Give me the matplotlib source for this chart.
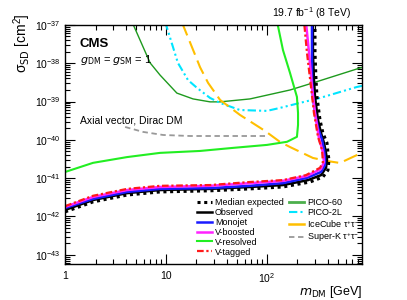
import numpy as np
import matplotlib
matplotlib.use("Agg")
import matplotlib.pyplot as plt
from matplotlib.ticker import FixedLocator, LogLocator, NullFormatter
from matplotlib.lines import Line2D

plt.rcParams['font.family'] = ['Liberation Sans', 'DejaVu Sans']
plt.rcParams['mathtext.default'] = 'regular'

# ---- data: m_DM [GeV], sigma_SD [cm^2] ----
exp_m = [1, 1.89, 4.11, 8.72, 27.3, 67.9, 144, 267, 358, 402, 411, 402, 393, 358, 335, 313, 306, 299, 299]
exp_s = [1.32e-42, 2.40e-42, 3.63e-42, 4.37e-42, 4.68e-42, 5.25e-42, 5.89e-42, 7.94e-42, 1.07e-41,
         1.62e-41, 3.02e-41, 4.57e-41, 8.32e-41, 1.51e-40, 3.31e-40, 1.32e-39, 3.63e-39, 1.86e-38, 1.2e-37]

obs_m = [1, 1.89, 4.11, 8.72, 27.3, 67.9, 144, 255, 343, 384, 393, 384, 367, 343, 320, 299, 292, 285, 285]
obs_s = [1.48e-42, 2.69e-42, 4.07e-42, 4.90e-42, 5.25e-42, 5.89e-42, 6.61e-42, 8.91e-42, 1.20e-41,
         1.86e-41, 3.02e-41, 4.57e-41, 8.32e-41, 1.51e-40, 3.31e-40, 1.32e-39, 3.63e-39, 1.86e-38, 1.2e-37]

mono_m = [1, 1.89, 4.11, 8.72, 27.3, 67.9, 144, 249, 343, 375, 375, 367, 351, 320, 299, 285, 279, 279, 279]
mono_s = [1.66e-42, 2.88e-42, 4.37e-42, 5.25e-42, 5.50e-42, 6.31e-42, 7.41e-42, 1.02e-41, 1.45e-41,
          2.19e-41, 3.39e-41, 5.50e-41, 1.0e-40, 2.04e-40, 5.01e-40, 1.32e-39, 3.63e-39, 1.86e-38, 1.2e-37]

vboost_m = [1, 1.89, 4.11, 8.72, 27.3, 67.9, 144, 249, 343, 367, 358, 327, 299, 279, 261, 243]
vboost_s = [1.78e-42, 3.24e-42, 4.90e-42, 5.89e-42, 6.31e-42, 7.41e-42, 8.51e-42, 1.15e-41, 1.74e-41,
            2.63e-41, 4.79e-41, 1.12e-40, 5.01e-40, 2.40e-39, 1.86e-38, 1.2e-37]

vres_m = [1, 1.89, 4.11, 8.72, 21.7, 46.1, 100, 158, 198, 203, 203, 198, 169, 144, 126]
vres_s = [1.45e-41, 2.51e-41, 3.55e-41, 4.57e-41, 5.13e-41, 6.17e-41, 7.38e-41, 8.9e-41, 1.2e-40,
          2.45e-40, 5.01e-40, 1.32e-39, 5.6e-39, 2.2e-38, 1.2e-37]

vtag_m = [1, 1.89, 4.11, 8.72, 27.3, 67.9, 144, 243, 335, 358, 351, 320, 292, 273, 249, 233]
vtag_s = [1.86e-42, 3.47e-42, 5.25e-42, 6.31e-42, 6.61e-42, 7.94e-42, 8.91e-42, 1.20e-41, 1.86e-41,
          2.63e-41, 5.50e-41, 1.20e-40, 5.01e-40, 2.40e-39, 1.86e-38, 1.2e-37]

pico60_m = [4.6, 6.95, 8.72, 12.8, 18.5, 27.3, 34.3, 67.9, 169, 285, 833, 900]
pico60_s = [1.2e-37, 1.02e-38, 4.9e-39, 1.66e-39, 1.17e-39, 9.8e-40, 9.8e-40, 1.17e-39, 2.0e-39,
            3.06e-39, 7.5e-39, 7.9e-39]

pico2l_m = [9.8, 13.1, 16.5, 20.3, 27.3, 34.3, 54, 100, 134, 212, 335, 778, 900]
pico2l_s = [1.2e-37, 1.02e-38, 3.63e-39, 2.26e-39, 1.24e-39, 9.2e-40, 6.0e-40, 5.7e-40, 6.8e-40,
            9.2e-40, 1.24e-39, 2.4e-39, 2.6e-39]

icecube_m = [14.3, 19.4, 21.7, 26.1, 34.3, 54, 95.6, 134, 169, 285, 393, 528, 900]
icecube_s = [1.2e-37, 1.65e-38, 7.9e-39, 3.06e-39, 1.10e-39, 4.47e-40, 1.71e-40, 8.9e-41, 6.5e-41,
             3.37e-41, 2.81e-41, 2.49e-41, 4.8e-41]

superk_m = [3.93, 5.92, 9.34, 17.3, 96]
superk_s = [2.17e-40, 1.61e-40, 1.34e-40, 1.26e-40, 1.26e-40]

y_major = [1e-43, 1e-42, 1e-41, 1e-40, 1e-39, 1e-38, 1e-37]

fig = plt.figure(figsize=(4.07, 3.0), dpi=100)
ax = fig.add_axes([0.160, 0.12, 0.729, 0.797])

# external limits
ax.plot(pico60_m, pico60_s, color='#1e9a1e', lw=1.0)
ax.plot(pico2l_m, pico2l_s, color='#00e5ff', lw=1.5, dashes=[4, 1.5, 1, 1.5, 1, 1.5])
ax.plot(icecube_m, icecube_s, color='#ffbf00', lw=1.5, dashes=[7, 3])
ax.plot(superk_m, superk_s, color='#999999', lw=1.3, dashes=[3, 2])

# collider limits
ax.plot(vres_m, vres_s, color='#22ee22', lw=1.5)
ax.plot(exp_m, exp_s, color='black', lw=2.2, dashes=[1, 1.2])
ax.plot(obs_m, obs_s, color='black', lw=1.8)
ax.plot(mono_m, mono_s, color='#1a1aff', lw=1.8)
ax.plot(vboost_m, vboost_s, color='#ff22ff', lw=1.8)
ax.plot(vtag_m, vtag_s, color='#ff1a1a', lw=1.6, dashes=[3, 1.2, 1, 1.2])

ax.set_xscale('log')
ax.set_yscale('log')
ax.set_xlim(1, 870)
ax.set_ylim(5.75e-44, 1e-37)

ax.xaxis.set_major_locator(FixedLocator([1, 10, 100]))
ax.set_xticklabels(['1', '10', '$10^2$'])
ax.xaxis.set_minor_locator(LogLocator(base=10, subs=np.arange(2, 10), numticks=20))
ax.xaxis.set_minor_formatter(NullFormatter())
ax.yaxis.set_major_locator(FixedLocator(y_major))
ax.set_yticklabels(['$10^{%d}$' % round(np.log10(v)) for v in y_major])
ax.yaxis.set_minor_locator(LogLocator(base=10, subs=np.arange(2, 10), numticks=40))
ax.yaxis.set_minor_formatter(NullFormatter())
ax.tick_params(which='both', direction='in', top=True, right=True, labelsize=7.5, width=0.8)
ax.tick_params(which='major', length=7)
ax.tick_params(which='minor', length=3.5)
ax.tick_params(axis='x', pad=5)
for sp in ax.spines.values():
    sp.set_linewidth(1.0)

fig.text(362 / 407, 1 - 295 / 300, r'$\mathit{m}_{\rm DM}$ [GeV]', fontsize=9, ha='right', va='baseline')
fig.text(22 / 407, 1 - 13 / 300, r'$\sigma_{\rm SD}$ [cm$^2$]', fontsize=10, rotation=90,
         ha='center', va='top')

ax.text(0.05, 0.92, 'CMS', transform=ax.transAxes, fontsize=9.5, fontweight='bold', va='center')
ax.text(0.05, 0.855, r'$\mathit{g}_{\rm DM}$ = $\mathit{g}_{\rm SM}$ = 1', transform=ax.transAxes,
        fontsize=8, va='center')
ax.text(0.05, 0.60, 'Axial vector, Dirac DM', transform=ax.transAxes, fontsize=7.5, va='center')
ax.text(0.966, 1.018, r'19.7 fb$^{-1}$ (8 TeV)', transform=ax.transAxes, fontsize=7.5,
        ha='right', va='bottom')

h1 = [Line2D([], [], color='black', lw=2.2, dashes=[1, 1.2]),
      Line2D([], [], color='black', lw=1.8),
      Line2D([], [], color='#1a1aff', lw=1.8),
      Line2D([], [], color='#ff22ff', lw=1.8),
      Line2D([], [], color='#22ee22', lw=1.5),
      Line2D([], [], color='#ff1a1a', lw=1.6, dashes=[3, 1.2, 1, 1.2])]
l1 = ['Median expected', 'Observed', 'Monojet', 'V-boosted', 'V-resolved', 'V-tagged']
h2 = [Line2D([], [], color='#4caf4c', lw=2.0),
      Line2D([], [], color='#00e5ff', lw=1.5, dashes=[4, 1.5, 1, 1.5, 1, 1.5]),
      Line2D([], [], color='#ffbf00', lw=1.8),
      Line2D([], [], color='#999999', lw=1.3, dashes=[3, 2])]
l2 = ['PICO-60', 'PICO-2L', r'IceCube $\tau^{+}\tau^{-}$', r'Super-K $\tau^{+}\tau^{-}$']

leg_kw = dict(frameon=False, fontsize=6.5, handlelength=1.65, handletextpad=0.35,
              labelspacing=0.1, borderaxespad=0, borderpad=0)
leg1 = ax.legend(h1, l1, loc='upper left', bbox_to_anchor=(0.444, 0.276), **leg_kw)
ax.add_artist(leg1)
ax.legend(h2, l2, loc='upper left', bbox_to_anchor=(0.754, 0.276), **leg_kw)

fig.savefig('out.png', dpi=100)
